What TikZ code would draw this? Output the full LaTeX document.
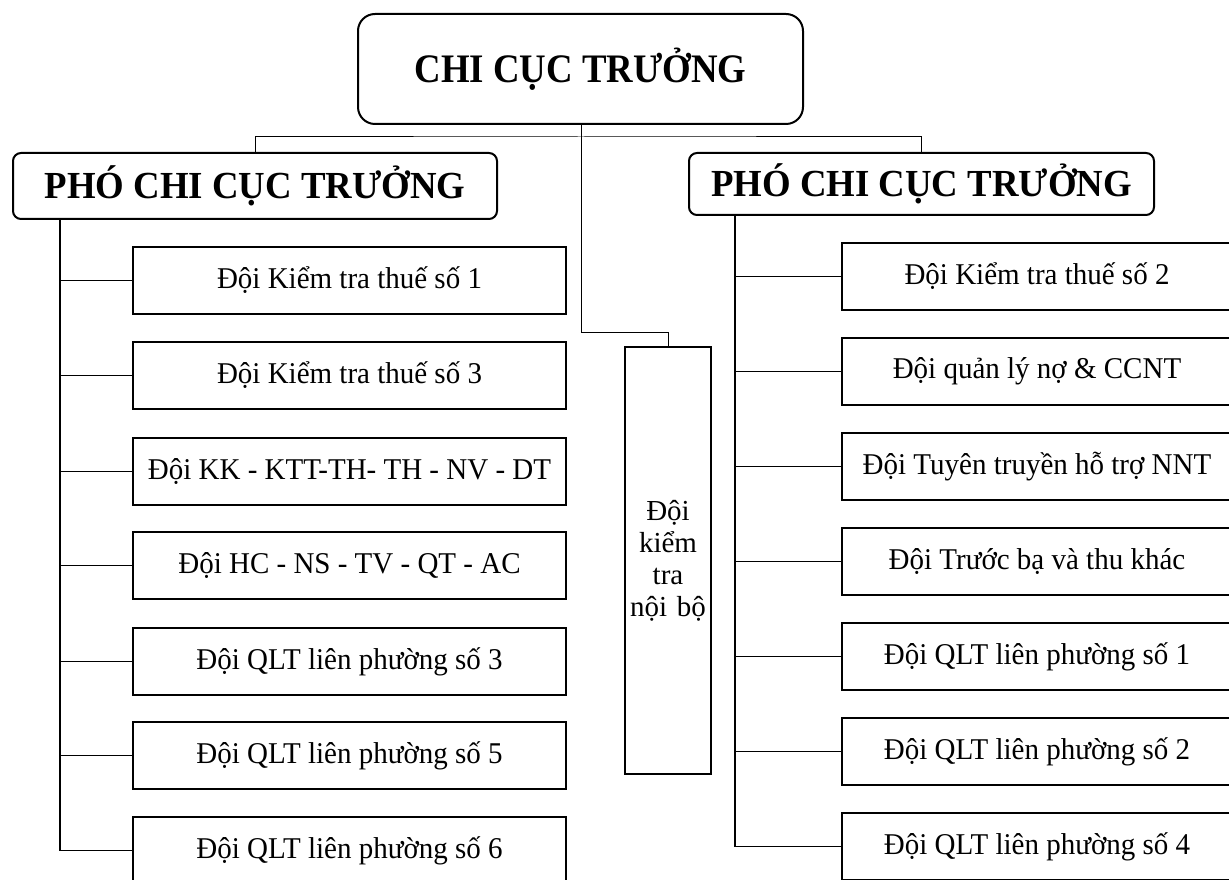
\documentclass[tikz,border=0pt]{standalone}
\usepackage{fontspec}
\setmainfont{Liberation Serif}
\usetikzlibrary{calc}
\newcommand{\tallt}[2]{\scalebox{1}[#1]{#2}}
\tikzset{
  headbox/.style={draw, line width=1.5pt, rounded corners=#1, inner sep=0pt, align=center,
    font=\fontsize{27.6pt}{32pt}\selectfont\bfseries},
  unitbox/.style={draw, line width=1.5pt, inner sep=0pt, align=center,
    minimum width=433*0.75pt, minimum height=67*0.75pt,
    font=\fontsize{21.75pt}{24pt}\selectfont},
  runitbox/.style={unitbox, minimum width=390*0.75pt},
  link/.style={line width=0.75pt},
  trunkline/.style={line width=1.1pt}
}
\begin{document}
\begin{tikzpicture}[x=0.75pt, y=-0.75pt]
\useasboundingbox (0,0) rectangle (1229,880);
\clip (0,0) rectangle (1229,880);
% head nodes
\node[headbox=12.75pt, minimum width=445*0.75pt, minimum height=110*0.75pt] (top) at (580.5,69) {\tallt{1.1}{CHI CỤC TRƯỞNG}};
\node[headbox=6pt, minimum width=484*0.75pt, minimum height=66*0.75pt] (lp) at (255,186) {\tallt{1.04}{PHÓ CHI CỤC TRƯỞNG}};
\node[headbox=6pt, minimum width=465*0.75pt, minimum height=62*0.75pt] (rp) at (921.5,184) {\tallt{1.04}{PHÓ CHI CỤC TRƯỞNG}};
% middle
\node[draw, line width=1.5pt, inner sep=0pt, minimum width=86*0.75pt, minimum height=427*0.75pt,
  text width=86*0.75pt-1.5pt, align=center, font=\fontsize{21.75pt}{24pt}\selectfont] (mid) at (668,560.5)
  {Đội\\kiểm\\tra\\nội bộ};
% left units
\node[unitbox] (l1) at (349.5,280.5) {\tallt{1.04}{Đội Kiểm tra thuế số 1}};
\node[unitbox] (l2) at (349.5,375.5) {\tallt{1.04}{Đội Kiểm tra thuế số 3}};
\node[unitbox] (l3) at (349.5,471.5) {\tallt{1.04}{Đội KK - KTT-TH- TH - NV - DT}};
\node[unitbox] (l4) at (349.5,565.5) {\tallt{1.04}{Đội HC - NS - TV - QT - AC}};
\node[unitbox] (l5) at (349.5,661.5) {\tallt{1.04}{Đội QLT liên phường số 3}};
\node[unitbox] (l6) at (349.5,755.5) {\tallt{1.04}{Đội QLT liên phường số 5}};
\node[unitbox] (l7) at (349.5,850.5) {\tallt{1.04}{Đội QLT liên phường số 6}};
% right units
\node[runitbox] (r1) at (1037,276.5) {\tallt{1.04}{Đội Kiểm tra thuế số 2}};
\node[runitbox] (r2) at (1037,371.5) {\tallt{1.04}{Đội quản lý nợ \& CCNT}};
\node[runitbox] (r3) at (1037,466.5) {\tallt{1.04}{Đội Tuyên truyền hỗ trợ NNT}};
\node[runitbox] (r4) at (1037,561.5) {\tallt{1.04}{Đội Trước bạ và thu khác}};
\node[runitbox] (r5) at (1037,656.5) {\tallt{1.04}{Đội QLT liên phường số 1}};
\node[runitbox] (r6) at (1037,751.5) {\tallt{1.04}{Đội QLT liên phường số 2}};
\node[runitbox] (r7) at (1037,846.5) {\tallt{1.04}{Đội QLT liên phường số 4}};
% connectors from the head
\coordinate (bus) at (581,137);
\coordinate (jog) at (581,333);
\draw[link] (lp.north) |- (bus) -| (rp.north);
\draw[link] (top.south -| bus) -- (jog) -| (mid.north);
% trunks
\coordinate (lt) at ($(lp.south west)+(48,0)$);
\coordinate (rt) at ($(rp.south west)+(47,0)$);
\draw[trunkline] (lt) |- (l7.west);
\draw[trunkline] (rt) |- (r7.west);
\foreach \k in {1,...,6} {
  \draw[link] (lt |- l\k.west) -- (l\k.west);
  \draw[link] (rt |- r\k.west) -- (r\k.west);
}
\end{tikzpicture}
\end{document}
